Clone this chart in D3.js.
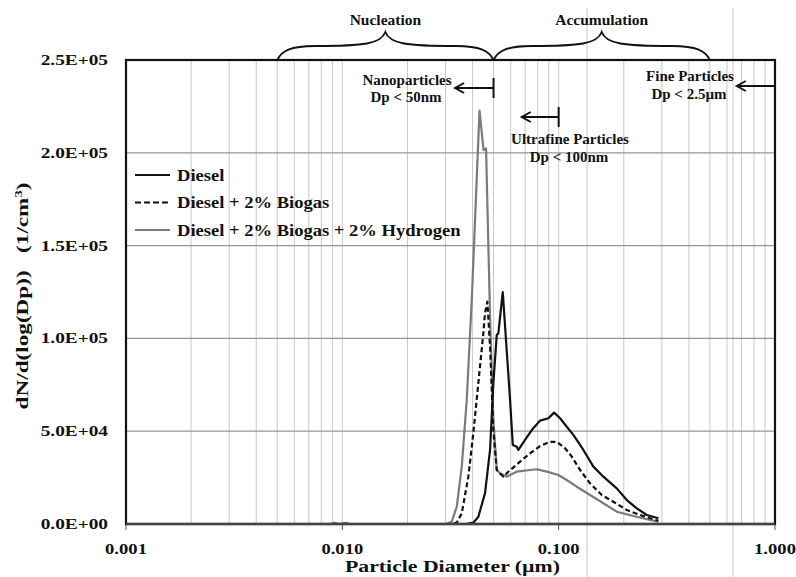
<!DOCTYPE html>
<html>
  <head>
    <meta charset="utf-8">
    <title>Particle size distribution</title>
    <script src="https://d3js.org/d3.v7.min.js"></script>
    <style>
      body { margin: 0; background: #fff; }
      text { font-family: "Liberation Serif", "Times New Roman", serif; font-weight: bold; fill: #111; }
    </style>
  </head>
  <body>
    <svg id="chart" width="796" height="577"></svg>
    <script>
      // axis ticks
      const xTicks = [0.001, 0.01, 0.1, 1];
      const xTickLabels = ["0.001", "0.010", "0.100", "1.000"];
      const yTicks = [0, 50000, 100000, 150000, 200000, 250000];
      const yTickLabels = ["0.0E+00", "5.0E+04", "1.0E+05", "1.5E+05", "2.0E+05", "2.5E+05"];
      const seriesNames = ["Diesel", "Diesel + 2% Biogas", "Diesel + 2% Biogas + 2% Hydrogen"];
      // series values, diameter in um and dN/dlogDp
      const dieselDp = [0.001, 0.0373, 0.0403, 0.04255, 0.04568, 0.04818, 0.0499, 0.05173, 0.05262, 0.05515, 0.05962,
        0.06136, 0.06403, 0.06513, 0.06994, 0.07509, 0.08204, 0.08963, 0.09522, 0.1015, 0.109, 0.1169, 0.1301,
        0.1447, 0.1609, 0.1856, 0.2065, 0.2297, 0.2555, 0.2891];
      const dieselN = [0, 0, 700, 3930, 16700, 39900, 75800, 101800, 102700, 125000, 66800,
        42600, 41600, 39900, 45300, 50600, 55700, 57000, 60000, 57000, 52400, 48000, 39900,
        30900, 25500, 19200, 12900, 8460, 4850, 3070];
      const biogasDp = [0.001, 0.03148, 0.03381, 0.03565, 0.03824, 0.04032, 0.04254, 0.04486, 0.04567, 0.04681, 0.04818,
        0.0499, 0.05173, 0.0555, 0.05853, 0.0663, 0.07376, 0.08204, 0.09125, 0.098, 0.1071, 0.115, 0.1256,
        0.1397, 0.1583, 0.179, 0.2065, 0.2378, 0.2646, 0.2891];
      const biogasN = [0, 0, 700, 5770, 25500, 49000, 76000, 102900, 113700, 119800, 95500,
        50600, 29100, 25500, 28200, 33600, 38100, 42000, 44300, 44300, 40800, 36300, 29100,
        21900, 15600, 12000, 7540, 4850, 3070, 1780];
      const hydrogenDp = [0.001, 0.0088, 0.0092, 0.0097, 0.0104, 0.0108, 0.03016, 0.03205, 0.03381, 0.03565, 0.03759,
        0.03965, 0.04307, 0.04495, 0.04617, 0.04818, 0.0499, 0.05173, 0.05358, 0.05756, 0.06402, 0.07376, 0.0792,
        0.0881, 0.09968, 0.109, 0.1212, 0.1397, 0.1609, 0.1856, 0.2215, 0.2646, 0.2891];
      const hydrogenN = [0, 0, 700, 0, 600, 0, 0, 1240, 9320, 30900, 66800,
        120700, 222700, 201500, 202400, 111700, 56000, 29100, 27300, 25500, 28200, 29100, 29500,
        28200, 26400, 23700, 20100, 15600, 11200, 6630, 4310, 2160, 1240];
      // size ranges (um)
      const nucleationRange = [0.005, 0.05];
      const accumulationRange = [0.05, 0.5];
      const limitNano = 0.05, limitUltra = 0.1, limitFine = 1;
      const extraLines = [0.1353, 0.64];

      const width = 796, height = 577;
      const margin = { top: 60, right: 21, bottom: 53, left: 126 };
      const svg = d3.select("#chart");

      const x = d3.scaleLog()
        .domain([0.001, 1])
        .range([margin.left, width - margin.right]);
      const y = d3.scaleLinear()
        .domain([0, 250000])
        .range([height - margin.bottom, margin.top]);

      // stretched text helper (the source glyphs are wide)
      function label(t, px, py, sx, anchor) {
        return svg.append("text")
          .attr("transform", "translate(" + px + "," + py + ") scale(" + sx + ",1)")
          .attr("text-anchor", anchor || "middle")
          .text(t);
      }

      // grid
      let minor = [];
      [0.001, 0.01, 0.1].forEach(function(dec) {
        for (let k = 1; k <= 9; k++) minor.push(dec * k);
      });
      minor = minor.filter(function(d) { return d > 0.0011; });
      svg.append("g").selectAll("line")
        .data(minor)
        .enter().append("line")
          .attr("x1", function(d) { return x(d); })
          .attr("x2", function(d) { return x(d); })
          .attr("y1", y(250000))
          .attr("y2", y(0))
          .attr("stroke", "#c8c8c8")
          .attr("stroke-width", 1);
      svg.append("g").selectAll("line")
        .data(extraLines)
        .enter().append("line")
          .attr("x1", function(d) { return x(d); })
          .attr("x2", function(d) { return x(d); })
          .attr("y1", 8)
          .attr("y2", height)
          .attr("stroke", "#c8c8c8")
          .attr("stroke-width", 1);
      svg.append("g").selectAll("line")
        .data(yTicks.slice(1, -1))
        .enter().append("line")
          .attr("x1", x(0.001))
          .attr("x2", x(1))
          .attr("y1", function(d) { return y(d); })
          .attr("y2", function(d) { return y(d); })
          .attr("stroke", "#959595")
          .attr("stroke-width", 1.2);

      // decade ticks below the axis
      svg.append("g").selectAll("line")
        .data(xTicks)
        .enter().append("line")
          .attr("x1", function(d) { return x(d); })
          .attr("x2", function(d) { return x(d); })
          .attr("y1", y(0))
          .attr("y2", y(0) + 6)
          .attr("stroke", "#555")
          .attr("stroke-width", 1);

      // series
      const line = d3.line()
        .x(function(d) { return x(d[0]); })
        .y(function(d) { return y(d[1]); });
      const series = [
        { pts: d3.zip(hydrogenDp, hydrogenN), color: "#7a7a7a", dash: null },
        { pts: d3.zip(biogasDp, biogasN), color: "#111", dash: "5,3" },
        { pts: d3.zip(dieselDp, dieselN), color: "#111", dash: null }
      ];
      svg.append("g").selectAll("path")
        .data(series)
        .enter().append("path")
          .attr("d", function(d) { return line(d.pts); })
          .attr("fill", "none")
          .attr("stroke", function(d) { return d.color; })
          .attr("stroke-width", 2.2)
          .attr("stroke-dasharray", function(d) { return d.dash; })
          .attr("stroke-linejoin", "round");

      // plot frame
      svg.append("rect")
        .attr("x", x(0.001))
        .attr("y", y(250000))
        .attr("width", x(1) - x(0.001))
        .attr("height", y(0) - y(250000))
        .attr("fill", "none")
        .attr("stroke", "#111")
        .attr("stroke-width", 2.2);
      svg.append("line")
        .attr("x1", x(0.001)).attr("x2", x(1))
        .attr("y1", y(0)).attr("y2", y(0))
        .attr("stroke", "#444")
        .attr("stroke-width", 2.5);

      // tick labels
      xTicks.forEach(function(d, i) {
        label(xTickLabels[i], x(d), y(0) + 30, 1.33).style("font-size", "14px");
      });
      yTicks.forEach(function(d, i) {
        label(yTickLabels[i], margin.left - 18, y(d) + 5, 1.38, "end").style("font-size", "14px");
      });

      // axis titles
      label("Particle Diameter (\u00b5m)", (x(0.001) + x(1)) / 2 + 2, height - 5, 1.36).style("font-size", "16px");
      const yTitle = svg.append("text")
        .attr("transform", "translate(28," + 296 + ") rotate(-90) scale(1.45,1)")
        .attr("text-anchor", "middle")
        .style("font-size", "16px");
      yTitle.append("tspan").text("dN/d(log(Dp))");
      yTitle.append("tspan").attr("dx", 12).text("(1/cm");
      yTitle.append("tspan").attr("dy", -6).style("font-size", "10px").text("3");
      yTitle.append("tspan").attr("dy", 6).text(")");

      // legend
      const legend = svg.append("g")
        .attr("transform", "translate(135,175)");
      const legendStyle = [
        { color: "#111", dash: null },
        { color: "#111", dash: "6,3" },
        { color: "#7a7a7a", dash: null }
      ];
      seriesNames.forEach(function(name, i) {
        legend.append("line")
          .attr("x1", 0).attr("x2", 35)
          .attr("y1", i * 27.5).attr("y2", i * 27.5)
          .attr("stroke", legendStyle[i].color)
          .attr("stroke-width", 2.2)
          .attr("stroke-dasharray", legendStyle[i].dash);
        legend.append("text")
          .attr("transform", "translate(42," + (i * 27.5 + 5.5) + ") scale(1.16,1)")
          .style("font-size", "16px")
          .text(name);
      });

      // braces
      function brace(range, tipY) {
        const x0 = x(range[0]), x1 = x(range[1]);
        const xc = (x0 + x1) / 2;
        const y0 = margin.top, ym = margin.top - 14;
        const hw = xc - x0;
        const p = d3.path();
        p.moveTo(x0, y0);
        p.bezierCurveTo(x0 + 0.04 * hw, y0 - 9, x0 + 0.12 * hw, ym, x0 + 0.35 * hw, ym);
        p.bezierCurveTo(xc - 0.2 * hw, ym, xc - 0.04 * hw, ym - 2, xc, tipY);
        p.bezierCurveTo(xc + 0.04 * hw, ym - 2, xc + 0.2 * hw, ym, x1 - 0.35 * hw, ym);
        p.bezierCurveTo(x1 - 0.12 * hw, ym, x1 - 0.04 * hw, y0 - 9, x1, y0);
        svg.append("path")
          .attr("d", p.toString())
          .attr("fill", "none")
          .attr("stroke", "#111")
          .attr("stroke-width", 1.8);
        return xc;
      }
      const nucX = brace(nucleationRange, 32);
      const accX = brace(accumulationRange, 32);
      label("Nucleation", nucX, 25, 1).style("font-size", "15.5px");
      label("Accumulation", accX, 25, 1).style("font-size", "15.5px");

      // size limit arrows
      function arrow(fromD, toD, ay, bar) {
        const g = svg.append("g")
          .attr("stroke", "#111")
          .attr("stroke-width", 2)
          .attr("fill", "none");
        g.append("line")
          .attr("x1", x(fromD)).attr("x2", x(toD))
          .attr("y1", ay).attr("y2", ay);
        g.append("path")
          .attr("d", "M" + (x(toD) + 9) + "," + (ay - 5) + "L" + x(toD) + "," + ay + "L" + (x(toD) + 9) + "," + (ay + 5));
        if (bar) {
          g.append("line")
            .attr("x1", x(fromD)).attr("x2", x(fromD))
            .attr("y1", ay - 10).attr("y2", ay + 10);
        }
      }
      arrow(limitNano, 0.0332, 88, true);
      arrow(limitUltra, 0.0675, 117, true);
      arrow(limitFine, 0.666, 86, false);

      label("Nanoparticles", 407, 85, 1).style("font-size", "15px");
      label("Dp < 50nm", 406, 102, 1).style("font-size", "15px");
      label("Ultrafine Particles", 570, 144, 1).style("font-size", "15px");
      label("Dp < 100nm", 569, 162, 1).style("font-size", "15px");
      label("Fine Particles", 690, 81, 1).style("font-size", "15px");
      label("Dp < 2.5\u00b5m", 689, 99, 1).style("font-size", "15px");
    </script>
  </body>
</html>
